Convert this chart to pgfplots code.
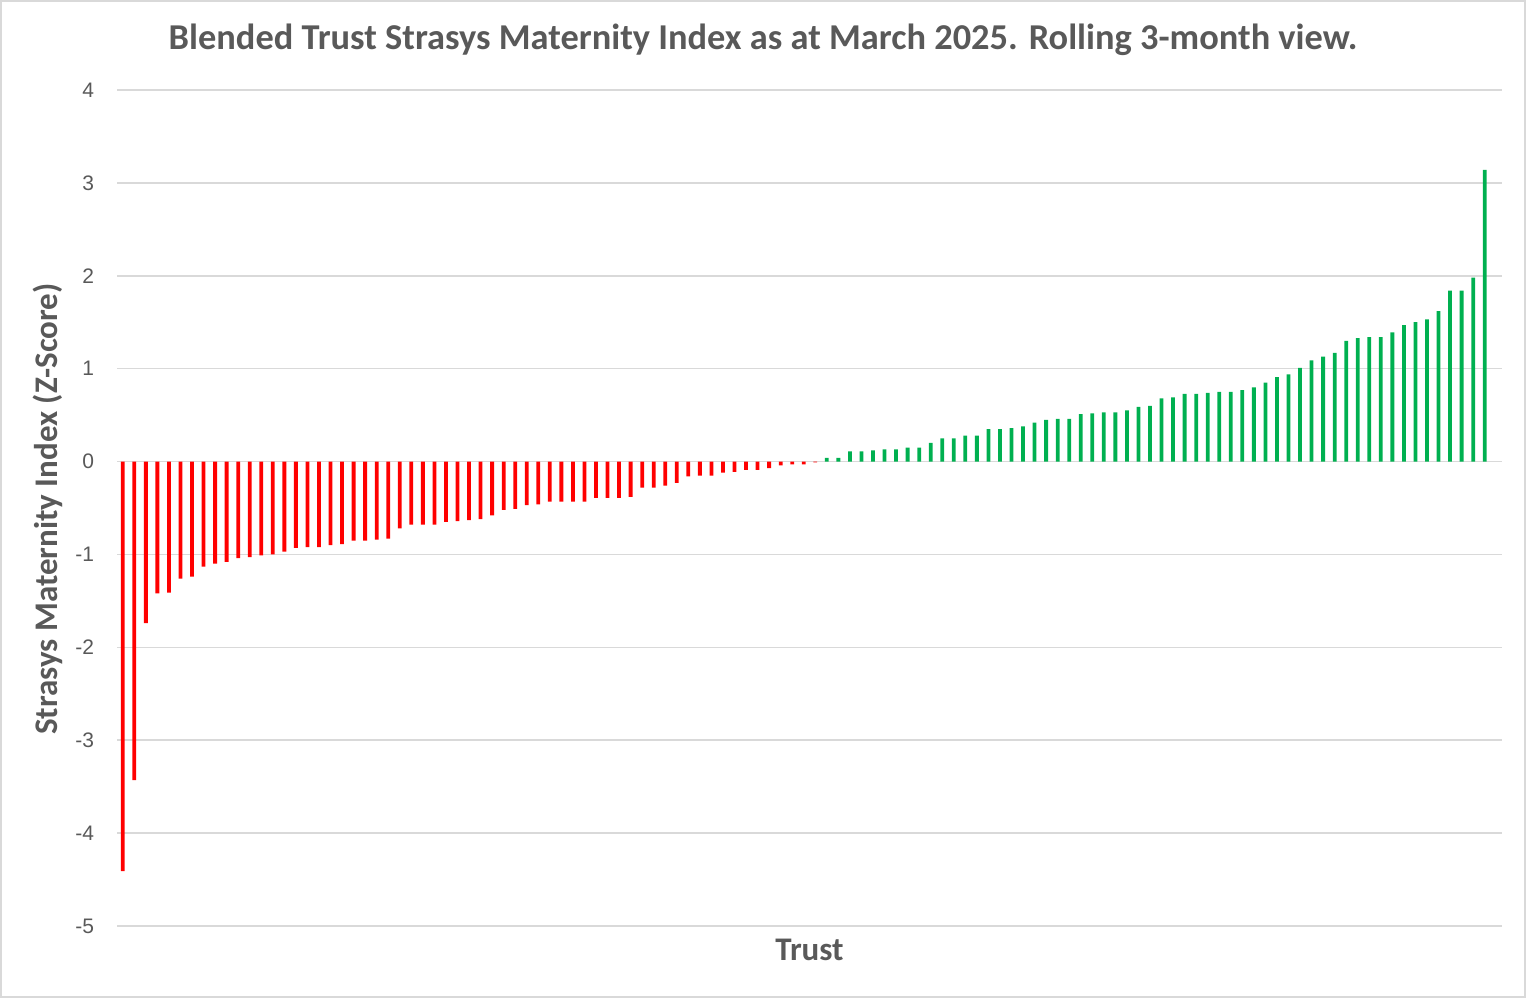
\documentclass[border=0pt]{standalone}
\usepackage{pgfplots}
\pgfplotsset{compat=1.18}
\usepackage{fontspec}
\setmainfont{Liberation Sans}
\newfontfamily\titlefont{Carlito}
\definecolor{txt}{HTML}{595959}
\definecolor{gridc}{HTML}{D9D9D9}
\definecolor{neg}{HTML}{FF0000}
\definecolor{pos}{HTML}{00B050}

\pgfplotstableread{
x y
1 -4.41
2 -3.43
3 -1.74
4 -1.42
5 -1.41
6 -1.26
7 -1.24
8 -1.13
9 -1.10
10 -1.08
11 -1.04
12 -1.03
13 -1.01
14 -1.00
15 -0.97
16 -0.93
17 -0.92
18 -0.92
19 -0.90
20 -0.89
21 -0.85
22 -0.85
23 -0.84
24 -0.83
25 -0.72
26 -0.68
27 -0.68
28 -0.68
29 -0.65
30 -0.64
31 -0.63
32 -0.62
33 -0.58
34 -0.52
35 -0.51
36 -0.47
37 -0.46
38 -0.43
39 -0.43
40 -0.43
41 -0.43
42 -0.39
43 -0.39
44 -0.39
45 -0.38
46 -0.28
47 -0.28
48 -0.26
49 -0.23
50 -0.16
51 -0.15
52 -0.15
53 -0.12
54 -0.11
55 -0.09
56 -0.09
57 -0.07
58 -0.04
59 -0.03
60 -0.03
61 -0.01
}\negdata

\pgfplotstableread{
x y
62 0.04
63 0.04
64 0.11
65 0.11
66 0.12
67 0.13
68 0.13
69 0.15
70 0.15
71 0.20
72 0.25
73 0.25
74 0.28
75 0.28
76 0.35
77 0.35
78 0.36
79 0.38
80 0.42
81 0.45
82 0.46
83 0.46
84 0.51
85 0.52
86 0.53
87 0.53
88 0.55
89 0.59
90 0.60
91 0.68
92 0.69
93 0.73
94 0.73
95 0.74
96 0.75
97 0.75
98 0.77
99 0.80
100 0.85
101 0.91
102 0.94
103 1.01
104 1.09
105 1.13
106 1.17
107 1.30
108 1.33
109 1.34
110 1.34
111 1.39
112 1.47
113 1.50
114 1.53
115 1.62
116 1.84
117 1.84
118 1.98
119 3.14
}\posdata

\begin{document}
\begin{tikzpicture}[x=1pt,y=1pt]
\path[use as bounding box] (0,0) rectangle (763,499);
\draw[gridc, line width=1pt] (0.5,0.5) rectangle (762.5,498.5);
\begin{axis}[
  at={(58.5pt,36pt)}, anchor=south west,
  scale only axis, width=692.5pt, height=418pt,
  xmin=0.5, xmax=120.5, ymin=-5, ymax=4,
  ytick={-5,-4,-3,-2,-1,0,1,2,3,4},
  xtick=\empty,
  axis line style={draw=none},
  ymajorgrids,
  grid style={gridc, line width=0.75pt},
  major tick length=0pt,
  /pgf/number format/assume math mode=true,
  yticklabel style={font=\fontsize{10.5}{12}\selectfont, text=txt, xshift=-8pt},
  clip=false,
]
\addplot[ybar, bar width=1.9pt, bar shift=0pt, fill=neg, draw=none] table[x=x,y=y] {\negdata};
\addplot[ybar, bar width=1.9pt, bar shift=0pt, fill=pos, draw=none] table[x=x,y=y] {\posdata};
\end{axis}
\node[text=txt, font=\titlefont\bfseries\fontsize{18.2}{21}\selectfont] at (381.5,479) {Blended Trust Strasys Maternity Index as at March 2025. Rolling 3-month view.};
\node[text=txt, font=\titlefont\bfseries\fontsize{16.5}{19}\selectfont, rotate=90] at (24,244.5) {Strasys Maternity Index (Z-Score)};
\node[text=txt, font=\titlefont\bfseries\fontsize{16.5}{19}\selectfont] at (404.75,24) {Trust};
\end{tikzpicture}
\end{document}
